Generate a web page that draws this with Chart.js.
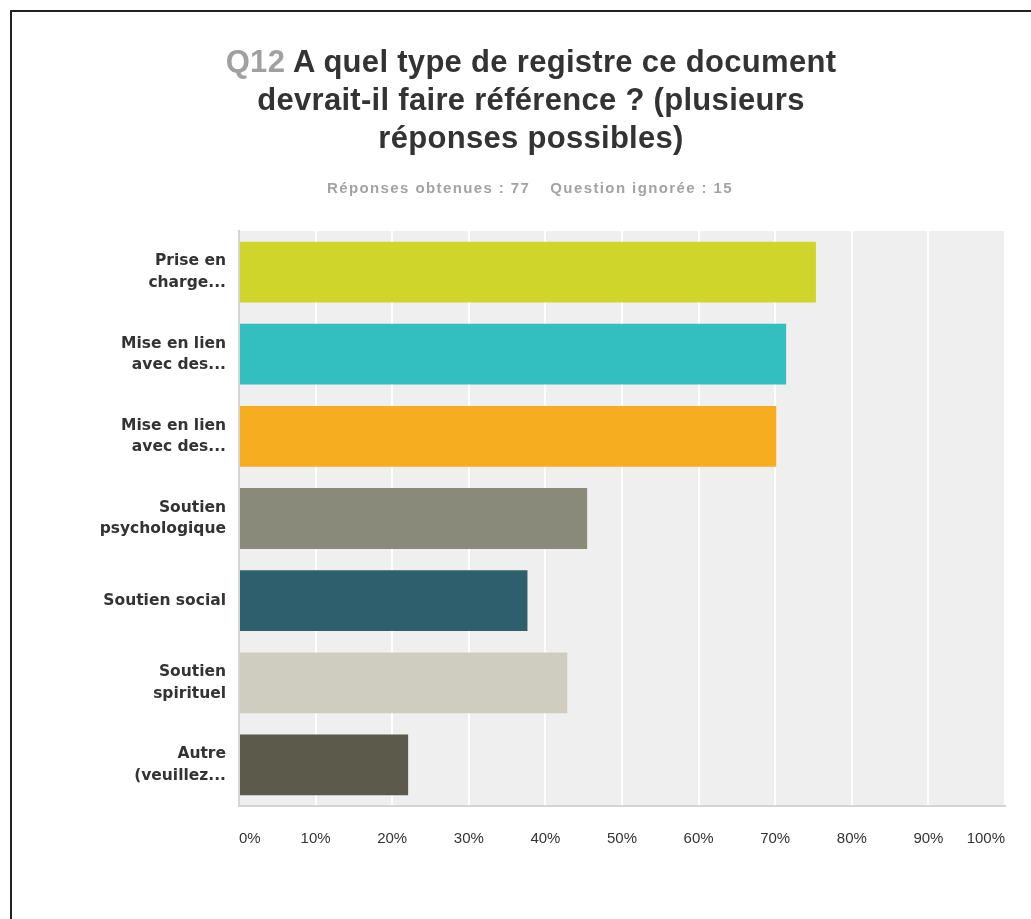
<!DOCTYPE html>
<html>
<head>
<meta charset="utf-8">
<script src="https://cdn.jsdelivr.net/npm/chart.js@4"></script>
<style>
  body { margin: 0; width: 1031px; height: 919px; background: #fff; overflow: hidden; position: relative; }
  .frame { position: absolute; left: 10px; top: 10px; width: 1100px; height: 1000px;
           border-top: 2px solid #222; border-left: 2px solid #222; }
  .title { position: absolute; left: 131px; width: 800px; top: 43px; text-align: center;
           font: bold 31px "Liberation Sans", Arial, sans-serif; letter-spacing: 0.3px;
           line-height: 38px; color: #333; }
  .title .num { color: #a0a0a0; }
  .sub { position: absolute; left: 130px; width: 800px; top: 178px; text-align: center;
         font: bold 15px "Liberation Sans", Arial, sans-serif; letter-spacing: 1.4px;
         line-height: 20px; color: #a3a3a3; }
  .sub span { margin: 0 10px; }
  canvas { position: absolute; left: 0; top: 0; }
</style>
</head>
<body>
<div class="frame"></div>
<canvas id="chart" width="1031" height="919"></canvas>
<div class="title"><span class="num">Q12</span> A quel type de registre ce document<br>devrait-il faire référence ? (plusieurs<br>réponses possibles)</div>
<div class="sub"><span>Réponses obtenues : 77</span><span>Question ignorée : 15</span></div>
<script>
// data (percent of respondents)
const categories = [
  ['Prise en', 'charge...'],
  ['Mise en lien', 'avec des...'],
  ['Mise en lien', 'avec des...'],
  ['Soutien', 'psychologique'],
  'Soutien social',
  ['Soutien', 'spirituel'],
  ['Autre', '(veuillez...']
];
const percents = [75.32, 71.43, 70.13, 45.45, 37.66, 42.86, 22.08];
const tickPercents = [0, 10, 20, 30, 40, 50, 60, 70, 80, 90, 100];

const barColors = ['#cfd52b', '#33bec0', '#f6ad20', '#898a79', '#2d5f6c', '#cfcdc0', '#5c5a4b'];

// grey plot background
const plotBg = {
  id: 'plotBg',
  beforeDraw(chart) {
    const { ctx, chartArea: a } = chart;
    ctx.save();
    ctx.fillStyle = '#efefef';
    ctx.fillRect(a.left, a.top, a.right - a.left, a.bottom - a.top);
    ctx.restore();
  }
};

new Chart(document.getElementById('chart'), {
  type: 'bar',
  data: {
    labels: categories,
    datasets: [{
      data: percents,
      backgroundColor: barColors,
      borderWidth: 0,
      barPercentage: 0.74,
      categoryPercentage: 1.0
    }]
  },
  options: {
    indexAxis: 'y',
    responsive: false,
    animation: false,
    layout: { padding: { top: 231, right: 26, bottom: 63, left: 0 } },
    plugins: { legend: { display: false }, tooltip: { enabled: false } },
    scales: {
      x: {
        min: 0, max: 100,
        afterBuildTicks: (scale) => { scale.ticks = tickPercents.map(v => ({ value: v })); },
        afterFit: (scale) => { scale.height = 50; },
        grid: { color: '#ffffff', lineWidth: 2, drawTicks: false },
        border: { display: true, color: '#d4d4d4', width: 2 },
        ticks: {
          align: 'inner',
          padding: 24,
          color: '#333',
          font: { family: '"Liberation Sans", Arial, sans-serif', size: 15 },
          callback: (v) => v + '%'
        }
      },
      y: {
        afterFit: (scale) => { scale.width = 239; },
        grid: { color: 'rgba(0,0,0,0)', drawTicks: false },
        border: { display: true, color: '#d4d4d4', width: 2 },
        ticks: {
          padding: 13,
          color: '#333',
          font: { family: '"DejaVu Sans", sans-serif', size: 15.5, weight: 'bold', lineHeight: 1.38 }
        }
      }
    }
  },
  plugins: [plotBg]
});
</script>
</body>
</html>
